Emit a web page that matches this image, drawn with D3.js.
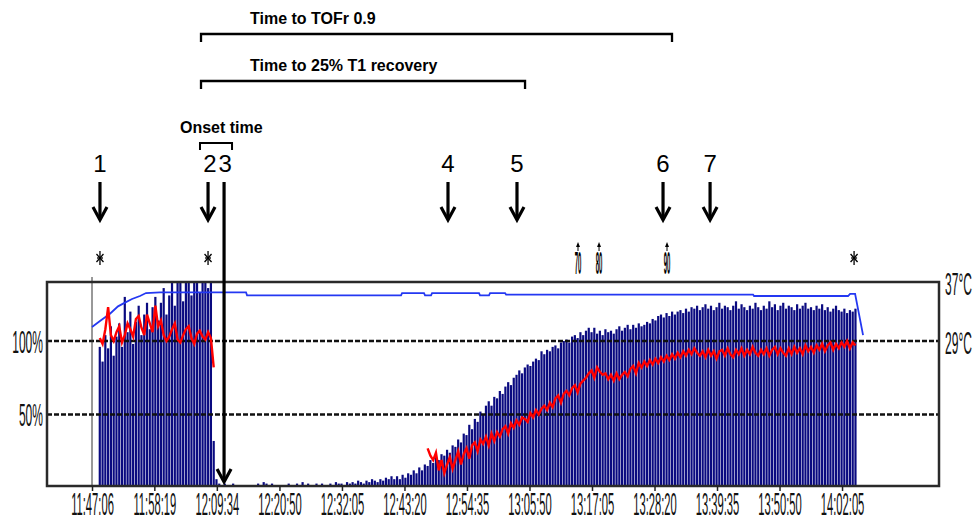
<!DOCTYPE html>
<html>
<head>
<meta charset="utf-8">
<script src="https://cdn.jsdelivr.net/npm/d3@7"></script>
<style>
  body { margin: 0; background: #fff; }
  svg { display: block; font-family: "Liberation Sans", Arial, sans-serif; }
</style>
</head>
<body>
<script>
// x axis tick labels (clock time)
var tickLabels = ['11:47:06','11:58:19','12:09:34','12:20:50','12:32:05','12:43:20','12:54:35',
  '13:05:50','13:17:05','13:28:20','13:39:35','13:50:50','14:02:05'];
var pctLabels = [100, 50];
var tempLabels = [37, 29];

// T1 twitch height (%), one bar every 30 s from barStart
var barStart = '11:48:30', barStep = 30;
var t1Before = [96,86,104,95,110,90,103,112,96,130, 106,120,98,113,124,104,118,126,108,123,
  130,114,126,136,118,131,142,124,140,145, 127,143,140,131,146,141,133,144,142,136, 145, 32];
var t1Block = [6,3,2,3,2,1,3,2,0,0, 0,2,1,2,0,3,2,4,3,2, 3,2,1,0,0,2,3,2,1,3,
  2,4,2,3,1,2,3,2,3,1, 2,3,2,4,3,3,2,4,3,4, 3,5,4,3,5,4,6,5,4,6, 5,7,6,8];
var t1Recovery = [6,8,6,9,7,10,9,12,10,14, 12,16,15,19,17,21,19,23,22,26,
  24,29,28,33,31,37,36,43,40,47, 45,52,50,56,59,56,62,61,66,64,
  69,72,70,75,77,80,78,82,84,83, 86,88,87,93,91,94,93,96,97,95,
  99,100,101,99,103,104,102,106,104,107, 109,106,109,105,107,104,108,106,107,105,
  108,110,107,109,111,108,111,109,112,110, 111,113,112,115,114,117,118,116,119,117,
  120,118,120,121,119,122,120,123,122,124, 121,123,125,122,124,121,123,126,122,124,
  123,121,124,127,122,125,123,121,124,122, 126,123,121,124,122,127,123,125,121,124,
  126,122,124,123,121,125,122,124,126,122, 123,121,124,122,125,121,123,120,122,124,
  121,120,122,119,121,120,122];

// TOF ratio (%), same 30 s steps
var ratioBefore = [102,98,108,123,104,100,106,110,99,104, 112,108,103,115,117,109,104,118,112,106,
  124,110,114,104,100,103,108,112,101,99, 104,108,110,102,98,105,107,103,101,106, 102, 82];
var ratioRecoveryStart = '12:47:30';
var ratioRecovery = [27,22,19,24,12,19,10,16,21,13, 19,25,16,23,27,20,29,31,25,33,
  30,35,29,37,32,38,35,40,42,37, 44,41,46,43,48,47,45,51,48,53,
  50,54,56,53,58,55,61,63,58,64, 66,63,68,70,65,71,73,75,78,80,
  75,82,79,77,78,74,77,73,78,74, 77,79,76,81,83,78,85,82,86,83,
  87,84,88,85,89,86,90,87,91,88, 92,89,93,90,94,91,95,92,90,93,
  89,94,90,93,88,93,94,90,95,91, 89,94,91,95,90,94,91,96,92,90,
  94,91,95,90,94,96,91,95,92,90, 95,91,96,92,95,91,97,93,96,92,
  97,94,98,93,97,99,94,98,95,99, 96,100,95,99,97];

// temperature (°C)
var tempTimes = ['11:47:06','11:48:32','11:50:20','11:51:47','11:53:02','11:54:18','11:55:44','11:56:49',
  '11:59:20','12:14:49','12:15:00','12:42:43','12:42:54','12:46:51','12:47:02','12:48:07','12:48:18',
  '12:56:45','12:56:56','12:58:33','12:58:44','13:01:26','13:01:37','13:46:04','13:46:15','14:03:10',
  '14:03:32','14:04:26','14:05:52'];
var tempValues = [30.9,31.7,32.7,33.7,34.2,34.7,35.1,35.5, 35.6,35.6,35.2,35.2,35.5,35.5,35.2,35.2,35.5,
  35.5,35.2,35.2,35.5,35.5,35.3,35.3,35.1,35.1, 35.4,35.4,29.8];

// annotations
var arrowEvents = [['1','11:48:32'],['2','12:07:59'],['4','12:51:10'],['5','13:03:35'],['6','13:29:52'],['7','13:38:20']];
var block3 = '12:10:52';
var stars = ['11:48:32','12:07:59','14:04:15'];
var pctMarks = [['70','13:14:34'],['80','13:18:21'],['90','13:30:35']];
var brackets = [
  {text:'Time to TOFr 0.9', from:'12:06:43', to:'13:31:29', y:34},
  {text:'Time to 25% T1 recovery', from:'12:06:43', to:'13:05:02', y:81}
];
var onset = {text:'Onset time', from:'12:06:32', to:'12:12:18'};

var W = 973, H = 522;
var box = {l:47, r:939, t:282, b:486};
var parse = d3.timeParse('%H:%M:%S');
var svg = d3.select('body').append('svg').attr('width', W).attr('height', H);

var x = d3.scaleTime().domain([parse('11:39:00'), parse('14:19:32')]).range([box.l, box.r]);
var y = d3.scaleLinear().domain([0, 100]).range([488, 341]);
var yT = d3.scaleLinear().domain([29, 37]).range([341, 282]);

svg.append('defs').append('clipPath').attr('id','plot')
  .append('rect').attr('x', box.l).attr('y', box.t).attr('width', box.r-box.l).attr('height', box.b-box.t);

var t0 = parse(barStart);
var bars = t1Before.concat(t1Block, t1Recovery).map(function(v, i){
  return {t: new Date(+t0 + i*barStep*1000), v: v};
});

var plot = svg.append('g').attr('clip-path', 'url(#plot)');
plot.selectAll('.bar').data(bars.filter(function(d){ return d.v > 0; })).enter().append('rect')
  .attr('class','bar')
  .attr('x', function(d){ return x(d.t) - 1.1; })
  .attr('width', 2.2)
  .attr('y', function(d){ return y(d.v); })
  .attr('height', function(d){ return y(0) - y(d.v); })
  .style('fill', '#0a0a80');

// dashed reference lines
plot.selectAll('.ref').data(pctLabels).enter().append('line')
  .attr('x1', box.l).attr('x2', box.r)
  .attr('y1', function(d){ return y(d); }).attr('y2', function(d){ return y(d); })
  .style('stroke', '#111').style('stroke-width', 2.4).style('stroke-dasharray', '5,2');

// start marker line
svg.append('line').attr('x1', x(parse(tickLabels[0]))).attr('x2', x(parse(tickLabels[0])))
  .attr('y1', box.t - 5).attr('y2', box.b)
  .style('stroke', '#333').style('stroke-width', 1);

// temperature
var temps = tempTimes.map(function(t, i){ return {t: parse(t), v: tempValues[i]}; });
svg.append('path').datum(temps)
  .attr('d', d3.line().x(function(d){ return x(d.t); }).y(function(d){ return yT(d.v); }))
  .style('fill','none').style('stroke','#2438f2').style('stroke-width', 1.8);

// TOF ratio
var r0 = parse(ratioRecoveryStart);
var ratio = ratioBefore.map(function(v, i){ return {t: new Date(+t0 + i*barStep*1000), v: v}; })
  .concat([{t: r0, v: null}])
  .concat(ratioRecovery.map(function(v, i){ return {t: new Date(+r0 + i*barStep*1000), v: v}; }));
svg.append('path').datum(ratio)
  .attr('d', d3.line().defined(function(d){ return d.v != null; })
    .x(function(d){ return x(d.t); }).y(function(d){ return y(d.v); }))
  .style('fill','none').style('stroke','#ff0000').style('stroke-width', 2.4);

// frame
svg.append('rect').attr('x', box.l).attr('y', box.t).attr('width', box.r-box.l).attr('height', box.b-box.t)
  .style('fill','none').style('stroke','#2a2a2a').style('stroke-width', 2.5);

// axes
var xAxis = svg.append('g').attr('transform', 'translate(0,' + box.b + ')')
  .call(d3.axisBottom(x).tickValues(tickLabels.map(parse)).tickFormat(d3.timeFormat('%H:%M:%S')).tickSize(5));
xAxis.select('.domain').remove();
xAxis.selectAll('line').style('stroke', '#222').style('stroke-width', 1.5);
xAxis.selectAll('text').attr('y', 0).attr('dy', 0).attr('transform', 'translate(0,29) scale(0.4,1.1)')
  .style('font-size', '28px').style('fill', '#111').style('font-family', '"Liberation Sans", Arial, sans-serif');

svg.selectAll('.pct').data(pctLabels).enter().append('text')
  .attr('transform', function(d){ return 'translate(43,' + y(d) + ') scale(0.43,1.15)'; })
  .attr('dy', '0.36em').attr('text-anchor', 'end')
  .style('font-size', '28px').style('fill', '#111')
  .text(function(d){ return d + '%'; });

svg.selectAll('.tmp').data(tempLabels).enter().append('text')
  .attr('transform', function(d){ return 'translate(945,' + (yT(d) + 1) + ') scale(0.43,1.15)'; })
  .attr('dy', '0.36em')
  .style('font-size', '28px').style('fill', '#111')
  .text(function(d){ return d + '\u00b0C'; });

// annotations
var ann = svg.append('g').style('stroke', '#000').style('fill', 'none');

function downArrow(cx, y0, y1){
  ann.append('line').attr('x1', cx).attr('x2', cx).attr('y1', y0).attr('y2', y1 - 1).style('stroke-width', 3.2);
  ann.append('polyline').attr('points', [[cx-7, y1-13],[cx, y1],[cx+7, y1-13]].join(' '))
    .style('stroke-width', 3.2).style('stroke-linejoin', 'miter');
}
arrowEvents.forEach(function(e){
  var cx = x(parse(e[1]));
  downArrow(cx, 182, 220);
  svg.append('text').attr('x', cx + (e[0] === '2' ? 2 : 0)).attr('y', 172).attr('text-anchor', 'middle')
    .style('font-size', '24px').style('fill', '#000').text(e[0]);
});
var x3 = x(parse(block3));
downArrow(x3, 182, 482);
svg.append('text').attr('x', x3 + 1).attr('y', 172).attr('text-anchor', 'middle')
  .style('font-size', '24px').style('fill', '#000').text('3');

stars.forEach(function(t){
  var cx = x(parse(t)), cy = 258;
  var s = ann.append('g').attr('transform', 'translate(' + cx + ',' + cy + ')').style('stroke-width', 1.3);
  s.append('line').attr('x1', 0).attr('x2', 0).attr('y1', -7).attr('y2', 7);
  s.append('line').attr('x1', -3.5).attr('x2', 3.5).attr('y1', -4).attr('y2', 4);
  s.append('line').attr('x1', -3.5).attr('x2', 3.5).attr('y1', 4).attr('y2', -4);
  s.append('line').attr('x1', -3).attr('x2', 3).attr('y1', 0).attr('y2', 0);
});

pctMarks.forEach(function(m){
  var cx = x(parse(m[1]));
  svg.append('path').attr('d', 'M' + (cx-2) + ',247L' + cx + ',242L' + (cx+2) + ',247Z').style('fill', '#000');
  ann.append('line').attr('x1', cx).attr('x2', cx).attr('y1', 246).attr('y2', 251).style('stroke-width', 1);
  svg.append('text').attr('transform', 'translate(' + cx + ',274) scale(0.2,1.05)')
    .attr('text-anchor', 'middle').style('font-size', '30px').style('font-weight', 'bold')
    .style('fill', '#000').text(m[0]);
});

brackets.forEach(function(b){
  var x0 = x(parse(b.from)), x1 = x(parse(b.to));
  ann.append('path').attr('d', 'M' + x0 + ',' + (b.y + 8) + 'V' + b.y + 'H' + x1 + 'V' + (b.y + 8))
    .style('stroke-width', 2.3);
  svg.append('text').attr('x', x0 + 49).attr('y', b.y - 10)
    .style('font-size', '16px').style('font-weight', 'bold').style('fill', '#000').text(b.text);
});
var ox0 = x(parse(onset.from)), ox1 = x(parse(onset.to));
ann.append('path').attr('d', 'M' + ox0 + ',150V143H' + ox1 + 'V150').style('stroke-width', 2);
svg.append('text').attr('x', ox0 - 20).attr('y', 133)
  .style('font-size', '16px').style('font-weight', 'bold').style('fill', '#000').text(onset.text);
</script>
</body>
</html>
